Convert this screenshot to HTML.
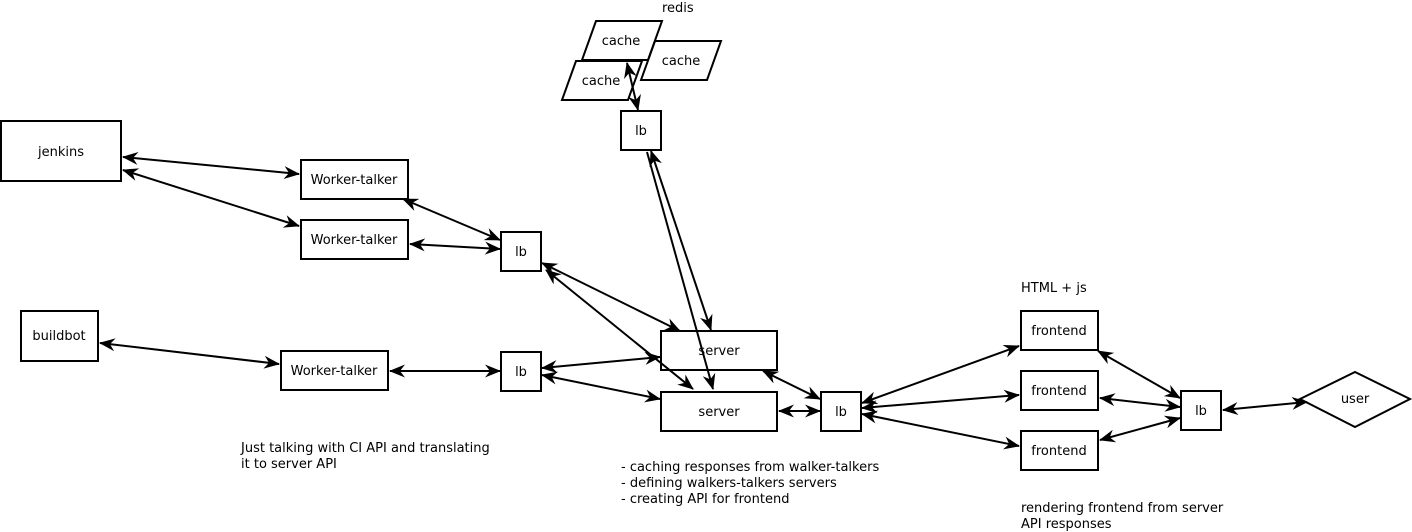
<!DOCTYPE html>
<html><head><meta charset="utf-8"><style>
html,body{margin:0;padding:0;background:#fff;}
svg{display:block;}
text{font-family:"DejaVu Sans","Liberation Sans",sans-serif;font-size:13px;fill:#000;}
</style></head><body>
<svg width="1412" height="532" viewBox="0 0 1412 532" xmlns="http://www.w3.org/2000/svg">
<defs>
<marker id="a" markerWidth="18" markerHeight="14" refX="15" refY="6.5" orient="auto-start-reverse" markerUnits="userSpaceOnUse">
<path d="M0,0 L16,6.5 L0,13 L5,6.5 z" fill="#000"/>
</marker>
</defs>
<g fill="none" stroke="#000" stroke-width="2">
<rect x="1" y="121" width="120" height="60"/>
<rect x="301" y="160" width="107" height="39"/>
<rect x="301" y="220" width="107" height="39"/>
<rect x="501" y="232" width="40" height="39"/>
<rect x="21" y="311" width="77" height="50"/>
<rect x="281" y="351" width="107" height="39"/>
<rect x="501" y="352" width="40" height="39"/>
<rect x="661" y="331" width="116" height="39"/>
<rect x="661" y="392" width="116" height="39"/>
<rect x="821" y="392" width="40" height="39"/>
<rect x="621" y="111" width="40" height="39"/>
<rect x="1021" y="311" width="77" height="39"/>
<rect x="1021" y="371" width="77" height="39"/>
<rect x="1021" y="431" width="77" height="39"/>
<rect x="1181" y="391" width="40" height="39"/>
<polygon points="1300,399 1355,372 1410,399 1355,427"/>
<polygon points="596,21 662,21 648,60 582,60" fill="#fff"/>
<polygon points="655,41 721,41 707,80 641,80" fill="#fff"/>
<polygon points="576,61 642,61 628,100 562,100" fill="#fff"/>
</g>
<g stroke="#000" stroke-width="2" fill="none" marker-start="url(#a)" marker-end="url(#a)">
<line x1="123" y1="157" x2="299" y2="174"/>
<line x1="123" y1="170" x2="299" y2="226"/>
<line x1="403" y1="199" x2="500" y2="240"/>
<line x1="410" y1="244" x2="500" y2="249"/>
<line x1="100" y1="343" x2="279" y2="364"/>
<line x1="390" y1="371" x2="500" y2="371"/>
<line x1="542" y1="263" x2="680" y2="331"/>
<line x1="546" y1="270" x2="693" y2="389"/>
<line x1="542" y1="368" x2="660" y2="357"/>
<line x1="542" y1="375" x2="660" y2="399"/>
<line x1="651" y1="151" x2="711" y2="330"/>
<line x1="627" y1="63" x2="638" y2="110"/>
<line x1="763" y1="371" x2="820" y2="399"/>
<line x1="779" y1="411" x2="820" y2="411"/>
<line x1="862" y1="403" x2="1019" y2="346"/>
<line x1="862" y1="408" x2="1019" y2="395"/>
<line x1="862" y1="414" x2="1019" y2="446"/>
<line x1="1098" y1="351" x2="1180" y2="398"/>
<line x1="1100" y1="398" x2="1180" y2="407"/>
<line x1="1100" y1="440" x2="1180" y2="418"/>
<line x1="1223" y1="410" x2="1307" y2="402"/>
</g>
<g stroke="#000" stroke-width="2" fill="none" marker-end="url(#a)">
<line x1="647" y1="152" x2="713" y2="389"/>
</g>
<g text-anchor="middle">
<text x="61" y="156">jenkins</text>
<text x="354" y="184">Worker-talker</text>
<text x="354" y="244">Worker-talker</text>
<text x="521" y="256">lb</text>
<text x="59" y="340">buildbot</text>
<text x="334" y="375">Worker-talker</text>
<text x="521" y="376">lb</text>
<text x="719" y="355">server</text>
<text x="719" y="416">server</text>
<text x="841" y="416">lb</text>
<text x="641" y="135">lb</text>
<text x="1059" y="335">frontend</text>
<text x="1059" y="395">frontend</text>
<text x="1059" y="455">frontend</text>
<text x="1201" y="415">lb</text>
<text x="1355" y="403">user</text>
<text x="621" y="45">cache</text>
<text x="681" y="65">cache</text>
<text x="601" y="85">cache</text>
</g>
<text x="662" y="12">redis</text>
<text x="1021" y="292">HTML + js</text>
<text x="241" y="452">Just talking with CI API and translating</text>
<text x="241" y="468">it to server API</text>
<text x="621" y="471">- caching responses from walker-talkers</text>
<text x="621" y="487">- defining walkers-talkers servers</text>
<text x="621" y="503">- creating API for frontend</text>
<text x="1021" y="512">rendering frontend from server</text>
<text x="1021" y="528">API responses</text>
</svg>
</body></html>
